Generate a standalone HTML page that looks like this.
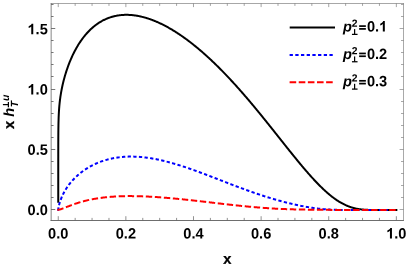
<!DOCTYPE html>
<html><head><meta charset="utf-8">
<style>
html,body{margin:0;padding:0;background:#fff;}
body{width:408px;height:268px;overflow:hidden;}
svg{display:block;will-change:transform;}
text{font-family:"Liberation Sans",sans-serif;font-weight:bold;font-size:14.6px;fill:#000;text-rendering:geometricPrecision;}
.it{font-style:italic;}
.sc{font-size:10.4px;}
</style></head><body>
<svg width="408" height="268" viewBox="0 0 408 268">
<rect width="408" height="268" fill="#fff"/>
<g fill="none" stroke-linejoin="round" stroke-linecap="square">
<path d="M58.25,201.70 L58.25,201.08 L58.25,200.76 L58.25,200.43 L58.25,200.09 L58.25,199.74 L58.25,199.38 L58.25,199.01 L58.25,198.62 L58.25,198.22 L58.25,197.81 L58.25,197.38 L58.25,196.94 L58.25,196.48 L58.25,196.01 L58.25,195.53 L58.25,195.03 L58.25,194.51 L58.25,193.98 L58.25,193.43 L58.25,192.86 L58.25,192.27 L58.25,191.67 L58.25,191.36 L58.25,191.04 L58.25,190.72 L58.25,190.40 L58.25,190.07 L58.25,189.74 L58.25,189.40 L58.25,189.06 L58.25,188.71 L58.25,188.35 L58.25,187.99 L58.25,187.63 L58.25,187.26 L58.25,186.88 L58.25,186.50 L58.25,186.11 L58.25,185.72 L58.25,185.33 L58.25,184.92 L58.25,184.51 L58.25,184.10 L58.25,183.68 L58.25,183.25 L58.25,182.82 L58.25,182.38 L58.25,181.93 L58.25,181.48 L58.25,181.02 L58.25,180.56 L58.25,180.09 L58.25,179.61 L58.25,179.13 L58.25,178.64 L58.25,178.15 L58.25,177.64 L58.25,177.13 L58.25,176.62 L58.25,176.10 L58.25,175.57 L58.25,175.03 L58.25,174.49 L58.25,173.94 L58.25,173.39 L58.25,172.82 L58.25,172.25 L58.25,171.68 L58.25,171.09 L58.25,170.50 L58.25,169.90 L58.25,169.30 L58.25,168.69 L58.25,168.07 L58.25,167.44 L58.25,166.81 L58.25,166.17 L58.25,165.52 L58.25,164.87 L58.25,164.21 L58.25,163.54 L58.25,162.87 L58.25,162.18 L58.25,161.50 L58.25,160.80 L58.25,160.10 L58.25,159.39 L58.25,158.67 L58.26,157.95 L58.26,157.21 L58.26,156.48 L58.26,155.73 L58.26,154.98 L58.26,154.22 L58.26,153.46 L58.26,152.69 L58.26,151.91 L58.26,151.13 L58.26,150.34 L58.26,149.54 L58.27,148.74 L58.27,147.93 L58.27,147.12 L58.27,146.30 L58.27,145.47 L58.28,144.64 L58.28,143.81 L58.28,142.96 L58.28,142.11 L58.29,141.26 L58.29,140.40 L58.29,139.54 L58.30,138.67 L58.30,137.80 L58.31,136.92 L58.31,136.03 L58.32,135.15 L58.33,134.25 L58.33,133.36 L58.34,132.45 L58.35,131.55 L58.36,130.64 L58.37,129.72 L58.38,128.80 L58.40,127.88 L58.41,126.95 L58.43,126.01 L58.44,125.07 L58.46,124.13 L58.48,123.18 L58.50,122.22 L58.53,121.26 L58.56,120.29 L58.59,119.31 L58.62,118.33 L58.65,117.34 L58.69,116.34 L58.74,115.34 L58.78,114.32 L58.84,113.29 L58.89,112.25 L58.95,111.19 L59.02,110.12 L59.10,109.04 L59.18,107.94 L59.27,106.82 L59.37,105.68 L59.48,104.52 L59.59,103.33 L59.72,102.11 L59.87,100.87 L60.02,99.59 L60.20,98.28 L60.38,96.94 L60.59,95.55 L60.82,94.12 L61.07,92.64 L61.34,91.11 L61.64,89.52 L62.15,86.99 L62.63,84.81 L63.11,82.75 L63.59,80.82 L64.07,78.98 L64.55,77.23 L65.03,75.55 L65.51,73.95 L65.99,72.40 L66.47,70.91 L66.95,69.47 L67.43,68.08 L67.91,66.73 L68.39,65.43 L68.87,64.16 L69.35,62.93 L69.83,61.73 L70.31,60.57 L70.79,59.43 L71.27,58.33 L71.75,57.25 L72.23,56.20 L72.70,55.18 L73.18,54.18 L73.66,53.20 L74.14,52.25 L74.62,51.32 L75.10,50.41 L75.58,49.52 L76.06,48.65 L76.54,47.79 L77.02,46.96 L77.50,46.15 L77.98,45.35 L78.46,44.57 L78.94,43.81 L79.42,43.06 L79.90,42.33 L80.38,41.61 L80.86,40.91 L81.34,40.22 L81.82,39.55 L82.30,38.89 L82.78,38.24 L83.26,37.61 L83.74,36.99 L84.22,36.39 L84.70,35.79 L85.18,35.21 L85.66,34.64 L86.14,34.08 L86.62,33.53 L87.10,33.00 L87.58,32.47 L88.06,31.96 L88.54,31.45 L89.02,30.96 L89.50,30.48 L89.97,30.00 L90.45,29.54 L90.93,29.09 L91.41,28.64 L91.89,28.21 L92.37,27.78 L92.85,27.37 L93.33,26.96 L93.81,26.56 L94.29,26.17 L94.77,25.79 L95.25,25.41 L95.73,25.05 L96.21,24.69 L96.69,24.34 L97.17,24.00 L97.65,23.67 L98.13,23.34 L98.61,23.02 L99.09,22.71 L99.57,22.41 L100.05,22.11 L100.53,21.82 L101.01,21.54 L101.49,21.27 L101.97,21.00 L102.45,20.74 L102.93,20.48 L103.41,20.23 L103.89,19.99 L104.37,19.76 L104.85,19.53 L105.33,19.31 L105.81,19.09 L106.29,18.88 L106.77,18.68 L107.24,18.48 L107.72,18.29 L108.20,18.10 L108.68,17.92 L109.16,17.75 L109.64,17.58 L110.12,17.41 L110.60,17.26 L111.08,17.10 L111.56,16.96 L112.04,16.81 L112.52,16.68 L113.00,16.55 L113.48,16.42 L113.96,16.30 L114.44,16.19 L114.92,16.08 L115.40,15.97 L115.88,15.87 L116.36,15.78 L116.84,15.69 L117.32,15.60 L117.80,15.52 L118.28,15.44 L118.76,15.37 L119.24,15.30 L119.72,15.24 L120.20,15.18 L120.68,15.13 L121.16,15.08 L121.64,15.04 L122.12,15.00 L122.60,14.96 L123.08,14.93 L123.56,14.90 L124.04,14.88 L124.51,14.86 L124.99,14.85 L125.47,14.84 L125.95,14.83 L126.43,14.83 L126.91,14.83 L127.39,14.84 L127.87,14.85 L128.35,14.86 L128.83,14.88 L129.31,14.90 L129.79,14.93 L130.27,14.96 L130.75,14.99 L131.23,15.03 L131.71,15.07 L132.19,15.11 L132.67,15.16 L133.15,15.22 L133.63,15.27 L134.11,15.33 L134.59,15.39 L135.07,15.46 L135.55,15.53 L136.03,15.60 L136.51,15.68 L136.99,15.76 L137.47,15.84 L137.95,15.93 L138.43,16.02 L138.91,16.11 L139.39,16.21 L139.87,16.31 L140.35,16.42 L140.83,16.52 L141.31,16.63 L141.78,16.75 L142.26,16.86 L142.74,16.98 L143.22,17.11 L143.70,17.23 L144.18,17.36 L144.66,17.50 L145.14,17.63 L145.62,17.77 L146.10,17.91 L146.58,18.06 L147.06,18.21 L147.54,18.36 L148.02,18.51 L148.50,18.67 L148.98,18.83 L149.46,18.99 L149.94,19.16 L150.42,19.32 L150.90,19.50 L151.38,19.67 L151.86,19.85 L152.34,20.03 L152.82,20.21 L153.30,20.40 L153.78,20.59 L154.26,20.78 L154.74,20.97 L155.22,21.17 L155.70,21.37 L156.18,21.57 L156.66,21.77 L157.14,21.98 L157.62,22.19 L158.10,22.41 L158.58,22.62 L159.05,22.84 L159.53,23.06 L160.01,23.29 L160.49,23.51 L160.97,23.74 L161.45,23.97 L161.93,24.21 L162.41,24.44 L162.89,24.68 L163.37,24.92 L163.85,25.17 L164.33,25.41 L164.81,25.66 L165.29,25.92 L165.77,26.17 L166.25,26.43 L166.73,26.69 L167.21,26.95 L167.69,27.21 L168.17,27.48 L168.65,27.75 L169.13,28.02 L169.61,28.29 L170.09,28.57 L170.57,28.85 L171.05,29.13 L171.53,29.41 L172.01,29.70 L172.49,29.98 L172.97,30.27 L173.45,30.57 L173.93,30.86 L174.41,31.16 L174.89,31.46 L175.37,31.76 L175.85,32.06 L176.32,32.37 L176.80,32.68 L177.28,32.99 L177.76,33.30 L178.24,33.62 L178.72,33.93 L179.20,34.25 L179.68,34.57 L180.16,34.90 L180.64,35.22 L181.12,35.55 L181.60,35.88 L182.08,36.22 L182.56,36.55 L183.04,36.89 L183.52,37.23 L184.00,37.57 L184.48,37.91 L184.96,38.26 L185.44,38.60 L185.92,38.95 L186.40,39.30 L186.88,39.66 L187.36,40.01 L187.84,40.37 L188.32,40.73 L188.80,41.09 L189.28,41.46 L189.76,41.82 L190.24,42.19 L190.72,42.56 L191.20,42.94 L191.68,43.31 L192.16,43.69 L192.64,44.06 L193.12,44.44 L193.59,44.83 L194.07,45.21 L194.55,45.60 L195.03,45.98 L195.51,46.37 L195.99,46.77 L196.47,47.16 L196.95,47.56 L197.43,47.95 L197.91,48.35 L198.39,48.76 L198.87,49.16 L199.35,49.56 L199.83,49.97 L200.31,50.38 L200.79,50.79 L201.27,51.20 L201.75,51.62 L202.23,52.04 L202.71,52.45 L203.19,52.88 L203.67,53.30 L204.15,53.72 L204.63,54.15 L205.11,54.58 L205.59,55.00 L206.07,55.44 L206.55,55.87 L207.03,56.30 L207.51,56.74 L207.99,57.18 L208.47,57.62 L208.95,58.06 L209.43,58.51 L209.91,58.95 L210.38,59.40 L210.86,59.85 L211.34,60.30 L211.82,60.75 L212.30,61.21 L212.78,61.66 L213.26,62.12 L213.74,62.58 L214.22,63.04 L214.70,63.50 L215.18,63.97 L215.66,64.43 L216.14,64.90 L216.62,65.37 L217.10,65.84 L217.58,66.32 L218.06,66.79 L218.54,67.27 L219.02,67.75 L219.50,68.22 L219.98,68.71 L220.46,69.19 L220.94,69.67 L221.42,70.16 L221.90,70.65 L222.38,71.14 L222.86,71.63 L223.34,72.12 L223.82,72.61 L224.30,73.11 L224.78,73.61 L225.26,74.10 L225.74,74.60 L226.22,75.11 L226.70,75.61 L227.18,76.11 L227.65,76.62 L228.13,77.13 L228.61,77.64 L229.09,78.15 L229.57,78.66 L230.05,79.17 L230.53,79.69 L231.01,80.21 L231.49,80.72 L231.97,81.24 L232.45,81.76 L232.93,82.29 L233.41,82.81 L233.89,83.34 L234.37,83.86 L234.85,84.39 L235.33,84.92 L235.81,85.45 L236.29,85.98 L236.77,86.52 L237.25,87.05 L237.73,87.59 L238.21,88.13 L238.69,88.66 L239.17,89.20 L239.65,89.75 L240.13,90.29 L240.61,90.83 L241.09,91.38 L241.57,91.93 L242.05,92.47 L242.53,93.02 L243.01,93.57 L243.49,94.12 L243.97,94.68 L244.45,95.23 L244.92,95.79 L245.40,96.34 L245.88,96.90 L246.36,97.46 L246.84,98.02 L247.32,98.58 L247.80,99.14 L248.28,99.71 L248.76,100.27 L249.24,100.84 L249.72,101.40 L250.20,101.97 L250.68,102.54 L251.16,103.11 L251.64,103.68 L252.12,104.25 L252.60,104.83 L253.08,105.40 L253.56,105.98 L254.04,106.55 L254.52,107.13 L255.00,107.71 L255.48,108.29 L255.96,108.87 L256.44,109.45 L256.92,110.03 L257.40,110.61 L257.88,111.20 L258.36,111.78 L258.84,112.37 L259.32,112.95 L259.80,113.54 L260.28,114.13 L260.76,114.72 L261.24,115.30 L261.72,115.89 L262.19,116.49 L262.67,117.08 L263.15,117.67 L263.63,118.26 L264.11,118.86 L264.59,119.45 L265.07,120.05 L265.55,120.64 L266.03,121.24 L266.51,121.83 L266.99,122.43 L267.47,123.03 L267.95,123.63 L268.43,124.23 L268.91,124.83 L269.39,125.43 L269.87,126.03 L270.35,126.63 L270.83,127.23 L271.31,127.83 L271.79,128.43 L272.27,129.04 L272.75,129.64 L273.23,130.24 L273.71,130.84 L274.19,131.45 L274.67,132.05 L275.15,132.66 L275.63,133.26 L276.11,133.87 L276.59,134.47 L277.07,135.07 L277.55,135.68 L278.03,136.29 L278.51,136.89 L278.99,137.50 L279.46,138.10 L279.94,138.71 L280.42,139.31 L280.90,139.92 L281.38,140.52 L281.86,141.13 L282.34,141.73 L282.82,142.34 L283.30,142.94 L283.78,143.54 L284.26,144.15 L284.74,144.75 L285.22,145.36 L285.70,145.96 L286.18,146.56 L286.66,147.16 L287.14,147.77 L287.62,148.37 L288.10,148.97 L288.58,149.57 L289.06,150.17 L289.54,150.77 L290.02,151.37 L290.50,151.96 L290.98,152.56 L291.46,153.16 L291.94,153.75 L292.42,154.35 L292.90,154.94 L293.38,155.54 L293.86,156.13 L294.34,156.72 L294.82,157.31 L295.30,157.90 L295.78,158.49 L296.26,159.08 L296.73,159.66 L297.21,160.25 L297.69,160.83 L298.17,161.42 L298.65,162.00 L299.13,162.58 L299.61,163.16 L300.09,163.74 L300.57,164.31 L301.05,164.89 L301.53,165.46 L302.01,166.03 L302.49,166.60 L302.97,167.17 L303.45,167.74 L303.93,168.30 L304.41,168.87 L304.89,169.43 L305.37,169.99 L305.85,170.55 L306.33,171.10 L306.81,171.66 L307.29,172.21 L307.77,172.76 L308.25,173.31 L308.73,173.86 L309.21,174.40 L309.69,174.94 L310.17,175.48 L310.65,176.02 L311.13,176.55 L311.61,177.08 L312.09,177.61 L312.57,178.14 L313.05,178.67 L313.53,179.19 L314.00,179.71 L314.48,180.22 L314.96,180.74 L315.44,181.25 L315.92,181.75 L316.40,182.26 L316.88,182.76 L317.36,183.26 L317.84,183.75 L318.32,184.25 L318.80,184.73 L319.28,185.22 L319.76,185.70 L320.24,186.18 L320.72,186.66 L321.20,187.13 L321.68,187.59 L322.16,188.06 L322.64,188.52 L323.12,188.98 L323.60,189.43 L324.08,189.88 L324.56,190.32 L325.04,190.76 L325.52,191.20 L326.00,191.63 L326.48,192.06 L326.96,192.48 L327.44,192.90 L327.92,193.32 L328.40,193.73 L328.88,194.13 L329.36,194.54 L329.84,194.93 L330.32,195.32 L330.80,195.71 L331.27,196.10 L331.75,196.47 L332.23,196.85 L332.71,197.21 L333.19,197.58 L333.67,197.94 L334.15,198.29 L334.63,198.64 L335.11,198.98 L335.59,199.32 L336.07,199.65 L336.55,199.98 L337.03,200.30 L337.51,200.62 L337.99,200.93 L338.47,201.23 L338.95,201.53 L339.43,201.83 L339.91,202.12 L340.39,202.40 L340.87,202.68 L341.35,202.95 L341.83,203.22 L342.31,203.48 L342.79,203.73 L343.27,203.98 L343.75,204.23 L344.23,204.47 L344.71,204.70 L345.19,204.93 L345.67,205.15 L346.15,205.36 L346.63,205.57 L347.11,205.78 L347.59,205.98 L348.07,206.17 L348.54,206.36 L349.02,206.54 L349.50,206.71 L349.98,206.88 L350.46,207.05 L350.94,207.21 L351.42,207.36 L351.90,207.51 L352.38,207.65 L352.86,207.79 L353.34,207.92 L353.82,208.05 L354.30,208.17 L354.78,208.29 L355.26,208.40 L355.74,208.51 L356.22,208.61 L356.70,208.71 L357.18,208.80 L357.66,208.89 L358.14,208.97 L358.62,209.05 L359.10,209.12 L359.58,209.19 L360.06,209.26 L360.54,209.32 L361.02,209.38 L361.50,209.44 L361.98,209.49 L362.46,209.53 L362.94,209.58 L363.42,209.62 L363.90,209.66 L364.38,209.69 L364.86,209.73 L365.34,209.76 L365.81,209.78 L366.29,209.81 L366.77,209.83 L367.25,209.85 L367.73,209.87 L368.21,209.89 L368.69,209.90 L369.17,209.92 L369.65,209.93 L370.13,209.94 L370.61,209.95 L371.09,209.96 L371.57,209.96 L372.05,209.97 L372.53,209.98 L373.01,209.98 L373.49,209.98 L373.97,209.99 L374.45,209.99 L374.93,209.99 L375.41,209.99 L375.89,210.00 L376.37,210.00 L376.85,210.00 L377.33,210.00 L377.81,210.00 L378.29,210.00 L378.77,210.00 L379.25,210.00 L379.73,210.00 L380.21,210.00 L380.69,210.00 L381.17,210.00 L381.65,210.00 L382.13,210.00 L382.60,210.00 L383.08,210.00 L383.56,210.00 L384.04,210.00 L384.52,210.00 L385.00,210.00 L385.48,210.00 L385.96,210.00 L386.44,210.00 L386.92,210.00 L387.40,210.00 L387.88,210.00 L388.36,210.00 L388.84,210.00 L389.32,210.00 L389.80,210.00 L390.28,210.00 L390.76,210.00 L391.24,210.00 L391.72,210.00 L392.20,210.00 L392.68,210.00 L393.16,210.00 L393.64,210.00 L394.12,210.00 L394.60,210.00 L395.08,210.00 L395.56,210.00 L396.04,210.00 L396.35,210.00" stroke="#000" stroke-width="2"/>
<path d="M58.25,209.75 L58.27,209.44 L58.30,209.12 L58.34,208.79 L58.38,208.48 L58.44,208.09 L58.50,207.71 L58.59,207.25 L58.65,206.89 L58.74,206.49 L58.84,206.02 L58.95,205.50 L59.10,204.91 L59.18,204.58 L59.27,204.24 L59.37,203.87 L59.48,203.48 L59.59,203.07 L59.72,202.63 L59.87,202.17 L60.02,201.68 L60.20,201.16 L60.38,200.61 L60.59,200.03 L60.82,199.41 L61.07,198.77 L61.34,198.08 L61.64,197.36 L62.15,196.18 L62.63,195.14 L63.11,194.16 L63.59,193.21 L64.07,192.31 L64.55,191.44 L65.03,190.61 L65.51,189.81 L65.99,189.03 L66.47,188.28 L66.95,187.55 L67.43,186.85 L67.91,186.16 L68.39,185.50 L68.87,184.85 L69.35,184.22 L69.83,183.61 L70.31,183.01 L70.79,182.42 L71.27,181.85 L71.75,181.30 L72.23,180.75 L72.70,180.22 L73.18,179.70 L73.66,179.19 L74.14,178.69 L74.62,178.21 L75.10,177.73 L75.58,177.26 L76.06,176.80 L76.54,176.35 L77.02,175.91 L77.50,175.48 L77.98,175.06 L78.46,174.64 L78.94,174.23 L79.42,173.83 L79.90,173.44 L80.38,173.05 L80.86,172.67 L81.34,172.30 L81.82,171.94 L82.30,171.58 L82.78,171.23 L83.26,170.88 L83.74,170.54 L84.22,170.21 L84.70,169.88 L85.18,169.56 L85.66,169.24 L86.14,168.93 L86.62,168.62 L87.10,168.32 L87.58,168.03 L88.06,167.74 L88.54,167.45 L89.02,167.17 L89.50,166.90 L89.97,166.63 L90.45,166.36 L90.93,166.10 L91.41,165.85 L91.89,165.60 L92.37,165.35 L92.85,165.11 L93.33,164.87 L93.81,164.63 L94.29,164.40 L94.77,164.18 L95.25,163.96 L95.73,163.74 L96.21,163.53 L96.69,163.32 L97.17,163.11 L97.65,162.91 L98.13,162.71 L98.61,162.52 L99.09,162.33 L99.57,162.14 L100.05,161.96 L100.53,161.78 L101.01,161.60 L101.49,161.43 L101.97,161.26 L102.45,161.10 L102.93,160.94 L103.41,160.78 L103.89,160.63 L104.37,160.47 L104.85,160.33 L105.33,160.18 L105.81,160.04 L106.29,159.90 L106.77,159.77 L107.24,159.63 L107.72,159.51 L108.20,159.38 L108.68,159.26 L109.16,159.14 L109.64,159.02 L110.12,158.91 L110.60,158.80 L111.08,158.69 L111.56,158.59 L112.04,158.49 L112.52,158.39 L113.00,158.29 L113.48,158.20 L113.96,158.11 L114.44,158.02 L114.92,157.94 L115.40,157.85 L115.88,157.78 L116.36,157.70 L116.84,157.63 L117.32,157.56 L117.80,157.49 L118.28,157.42 L118.76,157.36 L119.24,157.30 L119.72,157.24 L120.20,157.19 L120.68,157.13 L121.16,157.08 L121.64,157.04 L122.12,156.99 L122.60,156.95 L123.08,156.91 L123.56,156.87 L124.04,156.84 L124.51,156.80 L124.99,156.77 L125.47,156.74 L125.95,156.72 L126.43,156.70 L126.91,156.67 L127.39,156.66 L127.87,156.64 L128.35,156.63 L128.83,156.61 L129.31,156.60 L129.79,156.60 L130.27,156.59 L130.75,156.59 L131.23,156.59 L131.71,156.59 L132.19,156.59 L132.67,156.60 L133.15,156.61 L133.63,156.62 L134.11,156.63 L134.59,156.64 L135.07,156.66 L135.55,156.68 L136.03,156.70 L136.51,156.72 L136.99,156.75 L137.47,156.77 L137.95,156.80 L138.43,156.83 L138.91,156.86 L139.39,156.90 L139.87,156.93 L140.35,156.97 L140.83,157.01 L141.31,157.05 L141.78,157.10 L142.26,157.14 L142.74,157.19 L143.22,157.24 L143.70,157.29 L144.18,157.34 L144.66,157.40 L145.14,157.46 L145.62,157.51 L146.10,157.57 L146.58,157.64 L147.06,157.70 L147.54,157.76 L148.02,157.83 L148.50,157.90 L148.98,157.97 L149.46,158.04 L149.94,158.12 L150.42,158.19 L150.90,158.27 L151.38,158.35 L151.86,158.43 L152.34,158.51 L152.82,158.59 L153.30,158.67 L153.78,158.76 L154.26,158.85 L154.74,158.94 L155.22,159.03 L155.70,159.12 L156.18,159.21 L156.66,159.31 L157.14,159.41 L157.62,159.50 L158.10,159.60 L158.58,159.71 L159.05,159.81 L159.53,159.91 L160.01,160.02 L160.49,160.12 L160.97,160.23 L161.45,160.34 L161.93,160.45 L162.41,160.56 L162.89,160.67 L163.37,160.79 L163.85,160.90 L164.33,161.02 L164.81,161.14 L165.29,161.26 L165.77,161.38 L166.25,161.50 L166.73,161.62 L167.21,161.75 L167.69,161.87 L168.17,162.00 L168.65,162.13 L169.13,162.26 L169.61,162.39 L170.09,162.52 L170.57,162.65 L171.05,162.78 L171.53,162.92 L172.01,163.05 L172.49,163.19 L172.97,163.33 L173.45,163.47 L173.93,163.61 L174.41,163.75 L174.89,163.89 L175.37,164.03 L175.85,164.17 L176.32,164.32 L176.80,164.46 L177.28,164.61 L177.76,164.76 L178.24,164.91 L178.72,165.05 L179.20,165.20 L179.68,165.36 L180.16,165.51 L180.64,165.66 L181.12,165.81 L181.60,165.97 L182.08,166.12 L182.56,166.28 L183.04,166.43 L183.52,166.59 L184.00,166.75 L184.48,166.91 L184.96,167.07 L185.44,167.23 L185.92,167.39 L186.40,167.55 L186.88,167.72 L187.36,167.88 L187.84,168.04 L188.32,168.21 L188.80,168.37 L189.28,168.54 L189.76,168.71 L190.24,168.87 L190.72,169.04 L191.20,169.21 L191.68,169.38 L192.16,169.55 L192.64,169.72 L193.12,169.89 L193.59,170.06 L194.07,170.23 L194.55,170.40 L195.03,170.58 L195.51,170.75 L195.99,170.92 L196.47,171.10 L196.95,171.27 L197.43,171.45 L197.91,171.62 L198.39,171.80 L198.87,171.98 L199.35,172.15 L199.83,172.33 L200.31,172.51 L200.79,172.69 L201.27,172.87 L201.75,173.05 L202.23,173.22 L202.71,173.40 L203.19,173.58 L203.67,173.77 L204.15,173.95 L204.63,174.13 L205.11,174.31 L205.59,174.49 L206.07,174.67 L206.55,174.85 L207.03,175.04 L207.51,175.22 L207.99,175.40 L208.47,175.58 L208.95,175.77 L209.43,175.95 L209.91,176.14 L210.38,176.32 L210.86,176.50 L211.34,176.69 L211.82,176.87 L212.30,177.06 L212.78,177.24 L213.26,177.43 L213.74,177.61 L214.22,177.80 L214.70,177.98 L215.18,178.17 L215.66,178.35 L216.14,178.54 L216.62,178.72 L217.10,178.91 L217.58,179.09 L218.06,179.28 L218.54,179.47 L219.02,179.65 L219.50,179.84 L219.98,180.02 L220.46,180.21 L220.94,180.40 L221.42,180.58 L221.90,180.77 L222.38,180.95 L222.86,181.14 L223.34,181.32 L223.82,181.51 L224.30,181.69 L224.78,181.88 L225.26,182.06 L225.74,182.25 L226.22,182.43 L226.70,182.62 L227.18,182.80 L227.65,182.99 L228.13,183.17 L228.61,183.36 L229.09,183.54 L229.57,183.73 L230.05,183.91 L230.53,184.09 L231.01,184.28 L231.49,184.46 L231.97,184.64 L232.45,184.83 L232.93,185.01 L233.41,185.19 L233.89,185.37 L234.37,185.56 L234.85,185.74 L235.33,185.92 L235.81,186.10 L236.29,186.28 L236.77,186.46 L237.25,186.64 L237.73,186.82 L238.21,187.00 L238.69,187.18 L239.17,187.36 L239.65,187.54 L240.13,187.72 L240.61,187.90 L241.09,188.08 L241.57,188.25 L242.05,188.43 L242.53,188.61 L243.01,188.78 L243.49,188.96 L243.97,189.13 L244.45,189.31 L244.92,189.49 L245.40,189.66 L245.88,189.83 L246.36,190.01 L246.84,190.18 L247.32,190.35 L247.80,190.53 L248.28,190.70 L248.76,190.87 L249.24,191.04 L249.72,191.21 L250.20,191.38 L250.68,191.55 L251.16,191.72 L251.64,191.89 L252.12,192.06 L252.60,192.23 L253.08,192.39 L253.56,192.56 L254.04,192.73 L254.52,192.89 L255.00,193.06 L255.48,193.22 L255.96,193.39 L256.44,193.55 L256.92,193.71 L257.40,193.88 L257.88,194.04 L258.36,194.20 L258.84,194.36 L259.32,194.52 L259.80,194.68 L260.28,194.84 L260.76,195.00 L261.24,195.16 L261.72,195.31 L262.19,195.47 L262.67,195.63 L263.15,195.78 L263.63,195.94 L264.11,196.09 L264.59,196.25 L265.07,196.40 L265.55,196.55 L266.03,196.71 L266.51,196.86 L266.99,197.01 L267.47,197.16 L267.95,197.31 L268.43,197.46 L268.91,197.61 L269.39,197.75 L269.87,197.90 L270.35,198.05 L270.83,198.19 L271.31,198.34 L271.79,198.48 L272.27,198.62 L272.75,198.77 L273.23,198.91 L273.71,199.05 L274.19,199.19 L274.67,199.33 L275.15,199.47 L275.63,199.61 L276.11,199.75 L276.59,199.89 L277.07,200.02 L277.55,200.16 L278.03,200.29 L278.51,200.43 L278.99,200.56 L279.46,200.69 L279.94,200.83 L280.42,200.96 L280.90,201.09 L281.38,201.22 L281.86,201.35 L282.34,201.48 L282.82,201.60 L283.30,201.73 L283.78,201.86 L284.26,201.98 L284.74,202.11 L285.22,202.23 L285.70,202.35 L286.18,202.48 L286.66,202.60 L287.14,202.72 L287.62,202.84 L288.10,202.96 L288.58,203.08 L289.06,203.19 L289.54,203.31 L290.02,203.42 L290.50,203.54 L290.98,203.65 L291.46,203.77 L291.94,203.88 L292.42,203.99 L292.90,204.10 L293.38,204.21 L293.86,204.32 L294.34,204.43 L294.82,204.54 L295.30,204.64 L295.78,204.75 L296.26,204.85 L296.73,204.96 L297.21,205.06 L297.69,205.16 L298.17,205.26 L298.65,205.36 L299.13,205.46 L299.61,205.56 L300.09,205.66 L300.57,205.75 L301.05,205.85 L301.53,205.94 L302.01,206.04 L302.49,206.13 L302.97,206.22 L303.45,206.31 L303.93,206.40 L304.41,206.49 L304.89,206.58 L305.37,206.67 L305.85,206.75 L306.33,206.84 L306.81,206.92 L307.29,207.01 L307.77,207.09 L308.25,207.17 L308.73,207.25 L309.21,207.33 L309.69,207.41 L310.17,207.49 L310.65,207.56 L311.13,207.64 L311.61,207.71 L312.09,207.79 L312.57,207.86 L313.05,207.93 L313.53,208.00 L314.00,208.07 L314.48,208.13 L314.96,208.20 L315.44,208.27 L315.92,208.33 L316.40,208.39 L316.88,208.45 L317.36,208.51 L317.84,208.57 L318.32,208.63 L318.80,208.69 L319.28,208.74 L319.76,208.80 L320.24,208.85 L320.72,208.90 L321.20,208.95 L321.68,209.00 L322.16,209.05 L322.64,209.09 L323.12,209.14 L323.60,209.18 L324.08,209.22 L324.56,209.26 L325.04,209.30 L325.52,209.34 L326.00,209.37 L326.48,209.41 L326.96,209.44 L327.44,209.48 L327.92,209.51 L328.40,209.54 L328.88,209.57 L329.36,209.59 L329.84,209.62 L330.32,209.64 L330.80,209.67 L331.27,209.69 L331.75,209.71 L332.23,209.73 L332.71,209.75 L333.19,209.77 L333.67,209.78 L334.15,209.80 L334.63,209.81 L335.11,209.83 L335.59,209.84 L336.07,209.85 L336.55,209.86 L337.03,209.87 L337.51,209.88 L337.99,209.89 L338.47,209.90 L338.95,209.90 L339.43,209.91 L339.91,209.92 L340.39,209.92 L340.87,209.93 L341.35,209.93 L341.83,209.94 L342.31,209.94 L342.79,209.95 L343.27,209.95 L343.75,209.95 L344.23,209.95 L344.71,209.96 L345.19,209.96 L345.67,209.96 L346.15,209.97 L346.63,209.97 L347.11,209.97 L347.59,209.97 L348.07,209.97 L348.54,209.98 L349.02,209.98 L349.50,209.98 L349.98,209.98 L350.46,209.98 L350.94,209.98 L351.42,209.99 L351.90,209.99 L352.38,209.99 L352.86,209.99 L353.34,209.99 L353.82,209.99 L354.30,209.99 L354.78,209.99 L355.26,210.00 L355.74,210.00 L356.22,210.00 L356.70,210.00 L357.18,210.00 L357.66,210.00 L358.14,210.00 L358.62,210.00 L359.10,210.00 L359.58,210.00 L360.06,210.00 L360.54,210.00 L361.02,210.00 L361.50,210.00 L361.98,210.00 L362.46,210.00 L362.94,210.00 L363.42,210.00 L363.90,210.00 L364.38,210.00 L364.86,210.00 L365.34,210.00 L365.81,210.00 L366.29,210.00 L366.77,210.00 L367.25,210.00 L367.73,210.00 L368.21,210.00 L368.69,210.00 L369.17,210.00 L369.65,210.00 L370.13,210.00 L370.61,210.00 L371.09,210.00 L371.57,210.00 L372.05,210.00 L372.53,210.00 L373.01,210.00 L373.49,210.00 L373.97,210.00 L374.45,210.00 L374.93,210.00 L375.41,210.00 L375.89,210.00 L376.37,210.00 L376.85,210.00 L377.33,210.00 L377.81,210.00 L378.29,210.00 L378.77,210.00 L379.25,210.00 L379.73,210.00 L380.21,210.00 L380.69,210.00 L381.17,210.00 L381.65,210.00 L382.13,210.00 L382.60,210.00 L383.08,210.00 L383.56,210.00 L384.04,210.00 L384.52,210.00 L385.00,210.00 L385.48,210.00 L385.96,210.00 L386.44,210.00 L386.92,210.00 L387.40,210.00 L387.88,210.00 L388.36,210.00 L388.84,210.00 L389.32,210.00 L389.80,210.00 L390.28,210.00 L390.76,210.00 L391.24,210.00 L391.72,210.00 L392.20,210.00 L392.68,210.00 L393.16,210.00 L393.64,210.00 L394.12,210.00 L394.60,210.00 L395.08,210.00 L395.56,210.00 L396.04,210.00 L396.35,210.00" stroke="#0000ff" stroke-width="2" stroke-dasharray="1.3 4.335"/>
<path d="M58.25,209.75 L58.56,209.73 L58.89,209.69 L59.27,209.61 L59.59,209.54 L60.02,209.43 L60.38,209.33 L60.82,209.20 L61.34,209.03 L61.64,208.92 L62.15,208.74 L62.63,208.57 L63.11,208.39 L63.59,208.21 L64.07,208.02 L64.55,207.83 L65.03,207.64 L65.51,207.45 L65.99,207.26 L66.47,207.07 L66.95,206.88 L67.43,206.69 L67.91,206.50 L68.39,206.31 L68.87,206.12 L69.35,205.94 L69.83,205.75 L70.31,205.57 L70.79,205.38 L71.27,205.20 L71.75,205.02 L72.23,204.85 L72.70,204.67 L73.18,204.50 L73.66,204.33 L74.14,204.16 L74.62,203.99 L75.10,203.82 L75.58,203.66 L76.06,203.50 L76.54,203.34 L77.02,203.18 L77.50,203.03 L77.98,202.87 L78.46,202.72 L78.94,202.57 L79.42,202.43 L79.90,202.28 L80.38,202.14 L80.86,202.00 L81.34,201.86 L81.82,201.73 L82.30,201.59 L82.78,201.46 L83.26,201.33 L83.74,201.21 L84.22,201.08 L84.70,200.96 L85.18,200.84 L85.66,200.72 L86.14,200.60 L86.62,200.48 L87.10,200.37 L87.58,200.26 L88.06,200.15 L88.54,200.04 L89.02,199.93 L89.50,199.83 L89.97,199.73 L90.45,199.63 L90.93,199.53 L91.41,199.43 L91.89,199.34 L92.37,199.25 L92.85,199.15 L93.33,199.06 L93.81,198.98 L94.29,198.89 L94.77,198.80 L95.25,198.72 L95.73,198.64 L96.21,198.56 L96.69,198.48 L97.17,198.41 L97.65,198.33 L98.13,198.26 L98.61,198.19 L99.09,198.12 L99.57,198.05 L100.05,197.98 L100.53,197.91 L101.01,197.85 L101.49,197.79 L101.97,197.72 L102.45,197.66 L102.93,197.60 L103.41,197.55 L103.89,197.49 L104.37,197.44 L104.85,197.38 L105.33,197.33 L105.81,197.28 L106.29,197.23 L106.77,197.18 L107.24,197.13 L107.72,197.09 L108.20,197.04 L108.68,197.00 L109.16,196.96 L109.64,196.92 L110.12,196.88 L110.60,196.84 L111.08,196.80 L111.56,196.76 L112.04,196.73 L112.52,196.70 L113.00,196.66 L113.48,196.63 L113.96,196.60 L114.44,196.57 L114.92,196.54 L115.40,196.51 L115.88,196.49 L116.36,196.46 L116.84,196.44 L117.32,196.41 L117.80,196.39 L118.28,196.37 L118.76,196.35 L119.24,196.33 L119.72,196.31 L120.20,196.29 L120.68,196.28 L121.16,196.26 L121.64,196.24 L122.12,196.23 L122.60,196.22 L123.08,196.20 L123.56,196.19 L124.04,196.18 L124.51,196.17 L124.99,196.16 L125.47,196.16 L125.95,196.15 L126.43,196.14 L126.91,196.14 L127.39,196.13 L127.87,196.13 L128.35,196.12 L128.83,196.12 L129.31,196.12 L129.79,196.12 L130.27,196.12 L130.75,196.12 L131.23,196.12 L131.71,196.12 L132.19,196.13 L132.67,196.13 L133.15,196.13 L133.63,196.14 L134.11,196.14 L134.59,196.15 L135.07,196.16 L135.55,196.17 L136.03,196.17 L136.51,196.18 L136.99,196.19 L137.47,196.20 L137.95,196.21 L138.43,196.23 L138.91,196.24 L139.39,196.25 L139.87,196.26 L140.35,196.28 L140.83,196.29 L141.31,196.31 L141.78,196.32 L142.26,196.34 L142.74,196.36 L143.22,196.38 L143.70,196.39 L144.18,196.41 L144.66,196.43 L145.14,196.45 L145.62,196.47 L146.10,196.49 L146.58,196.52 L147.06,196.54 L147.54,196.56 L148.02,196.58 L148.50,196.61 L148.98,196.63 L149.46,196.66 L149.94,196.68 L150.42,196.71 L150.90,196.73 L151.38,196.76 L151.86,196.79 L152.34,196.81 L152.82,196.84 L153.30,196.87 L153.78,196.90 L154.26,196.93 L154.74,196.96 L155.22,196.99 L155.70,197.02 L156.18,197.05 L156.66,197.08 L157.14,197.12 L157.62,197.15 L158.10,197.18 L158.58,197.22 L159.05,197.25 L159.53,197.28 L160.01,197.32 L160.49,197.35 L160.97,197.39 L161.45,197.42 L161.93,197.46 L162.41,197.50 L162.89,197.53 L163.37,197.57 L163.85,197.61 L164.33,197.65 L164.81,197.69 L165.29,197.72 L165.77,197.76 L166.25,197.80 L166.73,197.84 L167.21,197.88 L167.69,197.92 L168.17,197.96 L168.65,198.01 L169.13,198.05 L169.61,198.09 L170.09,198.13 L170.57,198.17 L171.05,198.22 L171.53,198.26 L172.01,198.30 L172.49,198.35 L172.97,198.39 L173.45,198.44 L173.93,198.48 L174.41,198.52 L174.89,198.57 L175.37,198.62 L175.85,198.66 L176.32,198.71 L176.80,198.75 L177.28,198.80 L177.76,198.85 L178.24,198.89 L178.72,198.94 L179.20,198.99 L179.68,199.04 L180.16,199.08 L180.64,199.13 L181.12,199.18 L181.60,199.23 L182.08,199.28 L182.56,199.33 L183.04,199.38 L183.52,199.43 L184.00,199.48 L184.48,199.53 L184.96,199.58 L185.44,199.63 L185.92,199.68 L186.40,199.73 L186.88,199.78 L187.36,199.83 L187.84,199.88 L188.32,199.93 L188.80,199.99 L189.28,200.04 L189.76,200.09 L190.24,200.14 L190.72,200.19 L191.20,200.25 L191.68,200.30 L192.16,200.35 L192.64,200.41 L193.12,200.46 L193.59,200.51 L194.07,200.57 L194.55,200.62 L195.03,200.67 L195.51,200.73 L195.99,200.78 L196.47,200.83 L196.95,200.89 L197.43,200.94 L197.91,201.00 L198.39,201.05 L198.87,201.11 L199.35,201.16 L199.83,201.22 L200.31,201.27 L200.79,201.33 L201.27,201.38 L201.75,201.44 L202.23,201.49 L202.71,201.55 L203.19,201.60 L203.67,201.66 L204.15,201.71 L204.63,201.77 L205.11,201.82 L205.59,201.88 L206.07,201.94 L206.55,201.99 L207.03,202.05 L207.51,202.10 L207.99,202.16 L208.47,202.21 L208.95,202.27 L209.43,202.33 L209.91,202.38 L210.38,202.44 L210.86,202.49 L211.34,202.55 L211.82,202.61 L212.30,202.66 L212.78,202.72 L213.26,202.77 L213.74,202.83 L214.22,202.89 L214.70,202.94 L215.18,203.00 L215.66,203.05 L216.14,203.11 L216.62,203.17 L217.10,203.22 L217.58,203.28 L218.06,203.33 L218.54,203.39 L219.02,203.44 L219.50,203.50 L219.98,203.55 L220.46,203.61 L220.94,203.67 L221.42,203.72 L221.90,203.78 L222.38,203.83 L222.86,203.89 L223.34,203.94 L223.82,204.00 L224.30,204.05 L224.78,204.11 L225.26,204.16 L225.74,204.21 L226.22,204.27 L226.70,204.32 L227.18,204.38 L227.65,204.43 L228.13,204.48 L228.61,204.54 L229.09,204.59 L229.57,204.65 L230.05,204.70 L230.53,204.75 L231.01,204.81 L231.49,204.86 L231.97,204.91 L232.45,204.96 L232.93,205.02 L233.41,205.07 L233.89,205.12 L234.37,205.17 L234.85,205.22 L235.33,205.28 L235.81,205.33 L236.29,205.38 L236.77,205.43 L237.25,205.48 L237.73,205.53 L238.21,205.58 L238.69,205.63 L239.17,205.68 L239.65,205.73 L240.13,205.78 L240.61,205.83 L241.09,205.88 L241.57,205.93 L242.05,205.98 L242.53,206.03 L243.01,206.07 L243.49,206.12 L243.97,206.17 L244.45,206.22 L244.92,206.26 L245.40,206.31 L245.88,206.36 L246.36,206.40 L246.84,206.45 L247.32,206.50 L247.80,206.54 L248.28,206.59 L248.76,206.63 L249.24,206.68 L249.72,206.72 L250.20,206.77 L250.68,206.81 L251.16,206.86 L251.64,206.90 L252.12,206.94 L252.60,206.98 L253.08,207.03 L253.56,207.07 L254.04,207.11 L254.52,207.15 L255.00,207.19 L255.48,207.24 L255.96,207.28 L256.44,207.32 L256.92,207.36 L257.40,207.40 L257.88,207.44 L258.36,207.48 L258.84,207.51 L259.32,207.55 L259.80,207.59 L260.28,207.63 L260.76,207.67 L261.24,207.70 L261.72,207.74 L262.19,207.78 L262.67,207.81 L263.15,207.85 L263.63,207.88 L264.11,207.92 L264.59,207.95 L265.07,207.99 L265.55,208.02 L266.03,208.06 L266.51,208.09 L266.99,208.12 L267.47,208.15 L267.95,208.19 L268.43,208.22 L268.91,208.25 L269.39,208.28 L269.87,208.31 L270.35,208.34 L270.83,208.37 L271.31,208.40 L271.79,208.43 L272.27,208.46 L272.75,208.49 L273.23,208.52 L273.71,208.54 L274.19,208.57 L274.67,208.60 L275.15,208.63 L275.63,208.65 L276.11,208.68 L276.59,208.70 L277.07,208.73 L277.55,208.75 L278.03,208.78 L278.51,208.80 L278.99,208.83 L279.46,208.85 L279.94,208.87 L280.42,208.89 L280.90,208.92 L281.38,208.94 L281.86,208.96 L282.34,208.98 L282.82,209.00 L283.30,209.02 L283.78,209.04 L284.26,209.06 L284.74,209.08 L285.22,209.10 L285.70,209.12 L286.18,209.14 L286.66,209.16 L287.14,209.17 L287.62,209.19 L288.10,209.21 L288.58,209.22 L289.06,209.24 L289.54,209.26 L290.02,209.27 L290.50,209.29 L290.98,209.30 L291.46,209.32 L291.94,209.33 L292.42,209.34 L292.90,209.36 L293.38,209.37 L293.86,209.38 L294.34,209.40 L294.82,209.41 L295.30,209.42 L295.78,209.43 L296.26,209.44 L296.73,209.46 L297.21,209.47 L297.69,209.48 L298.17,209.49 L298.65,209.50 L299.13,209.51 L299.61,209.52 L300.09,209.53 L300.57,209.53 L301.05,209.54 L301.53,209.55 L302.01,209.56 L302.49,209.57 L302.97,209.58 L303.45,209.59 L303.93,209.59 L304.41,209.60 L304.89,209.61 L305.37,209.62 L305.85,209.62 L306.33,209.63 L306.81,209.64 L307.29,209.64 L307.77,209.65 L308.25,209.66 L308.73,209.66 L309.21,209.67 L309.69,209.68 L310.17,209.68 L310.65,209.69 L311.13,209.70 L311.61,209.70 L312.09,209.71 L312.57,209.71 L313.05,209.72 L313.53,209.72 L314.00,209.73 L314.48,209.73 L314.96,209.74 L315.44,209.74 L315.92,209.75 L316.40,209.75 L316.88,209.76 L317.36,209.76 L317.84,209.77 L318.32,209.77 L318.80,209.78 L319.28,209.78 L319.76,209.79 L320.24,209.79 L320.72,209.80 L321.20,209.80 L321.68,209.80 L322.16,209.81 L322.64,209.81 L323.12,209.82 L323.60,209.82 L324.08,209.82 L324.56,209.83 L325.04,209.83 L325.52,209.84 L326.00,209.84 L326.48,209.84 L326.96,209.85 L327.44,209.85 L327.92,209.85 L328.40,209.86 L328.88,209.86 L329.36,209.87 L329.84,209.87 L330.32,209.87 L330.80,209.88 L331.27,209.88 L331.75,209.88 L332.23,209.89 L332.71,209.89 L333.19,209.89 L333.67,209.90 L334.15,209.90 L334.63,209.90 L335.11,209.91 L335.59,209.91 L336.07,209.91 L336.55,209.91 L337.03,209.92 L337.51,209.92 L337.99,209.92 L338.47,209.93 L338.95,209.93 L339.43,209.93 L339.91,209.93 L340.39,209.94 L340.87,209.94 L341.35,209.94 L341.83,209.94 L342.31,209.95 L342.79,209.95 L343.27,209.95 L343.75,209.95 L344.23,209.96 L344.71,209.96 L345.19,209.96 L345.67,209.96 L346.15,209.97 L346.63,209.97 L347.11,209.97 L347.59,209.97 L348.07,209.97 L348.54,209.98 L349.02,209.98 L349.50,209.98 L349.98,209.98 L350.46,209.98 L350.94,209.98 L351.42,209.99 L351.90,209.99 L352.38,209.99 L352.86,209.99 L353.34,209.99 L353.82,209.99 L354.30,209.99 L354.78,209.99 L355.26,210.00 L355.74,210.00 L356.22,210.00 L356.70,210.00 L357.18,210.00 L357.66,210.00 L358.14,210.00 L358.62,210.00 L359.10,210.00 L359.58,210.00 L360.06,210.00 L360.54,210.00 L361.02,210.00 L361.50,210.00 L361.98,210.00 L362.46,210.00 L362.94,210.00 L363.42,210.00 L363.90,210.00 L364.38,210.00 L364.86,210.00 L365.34,210.00 L365.81,210.00 L366.29,210.00 L366.77,210.00 L367.25,210.00 L367.73,210.00 L368.21,210.00 L368.69,210.00 L369.17,210.00 L369.65,210.00 L370.13,210.00 L370.61,210.00 L371.09,210.00 L371.57,210.00 L372.05,210.00 L372.53,210.00 L373.01,210.00 L373.49,210.00 L373.97,210.00 L374.45,210.00 L374.93,210.00 L375.41,210.00 L375.89,210.00 L376.37,210.00 L376.85,210.00 L377.33,210.00 L377.81,210.00 L378.29,210.00 L378.77,210.00 L379.25,210.00 L379.73,210.00 L380.21,210.00 L380.69,210.00 L381.17,210.00 L381.65,210.00 L382.13,210.00 L382.60,210.00 L383.08,210.00 L383.56,210.00 L384.04,210.00 L384.52,210.00 L385.00,210.00 L385.48,210.00 L385.96,210.00 L386.44,210.00 L386.92,210.00 L387.40,210.00 L387.88,210.00 L388.36,210.00 L388.84,210.00 L389.32,210.00 L389.80,210.00 L390.28,210.00 L390.76,210.00 L391.24,210.00 L391.72,210.00 L392.20,210.00 L392.68,210.00 L393.16,210.00 L393.64,210.00 L394.12,210.00 L394.60,210.00 L395.08,210.00 L395.56,210.00 L396.04,210.00 L396.35,210.00" stroke="#ff0000" stroke-width="2" stroke-dasharray="4.4 4.64"/>
</g>
<g stroke="#666" stroke-width="0.65" fill="none" stroke-linecap="butt">
<line x1="50.75" y1="3.5" x2="403.78" y2="3.5" stroke-width="0.58"/>
<line x1="50.6" y1="220.5" x2="403.83" y2="220.5" stroke-width="0.95"/>
<line x1="51.15" y1="3.16" x2="51.15" y2="220.98" stroke-width="0.8"/>
<line x1="403.5" y1="3.21" x2="403.5" y2="220.98" stroke-width="0.57"/>
<line x1="58.25" y1="220.5" x2="58.25" y2="216.20" stroke-width="0.72"/>
<line x1="58.25" y1="3.5" x2="58.25" y2="7.10" stroke-width="0.6"/>
<line x1="75.16" y1="220.5" x2="75.16" y2="217.90" stroke-width="0.72"/>
<line x1="75.16" y1="3.5" x2="75.16" y2="5.90" stroke-width="0.6"/>
<line x1="92.06" y1="220.5" x2="92.06" y2="217.90" stroke-width="0.72"/>
<line x1="92.06" y1="3.5" x2="92.06" y2="5.90" stroke-width="0.6"/>
<line x1="108.97" y1="220.5" x2="108.97" y2="217.90" stroke-width="0.72"/>
<line x1="108.97" y1="3.5" x2="108.97" y2="5.90" stroke-width="0.6"/>
<line x1="125.87" y1="220.5" x2="125.87" y2="216.20" stroke-width="0.72"/>
<line x1="125.87" y1="3.5" x2="125.87" y2="7.10" stroke-width="0.6"/>
<line x1="142.78" y1="220.5" x2="142.78" y2="217.90" stroke-width="0.72"/>
<line x1="142.78" y1="3.5" x2="142.78" y2="5.90" stroke-width="0.6"/>
<line x1="159.68" y1="220.5" x2="159.68" y2="217.90" stroke-width="0.72"/>
<line x1="159.68" y1="3.5" x2="159.68" y2="5.90" stroke-width="0.6"/>
<line x1="176.59" y1="220.5" x2="176.59" y2="217.90" stroke-width="0.72"/>
<line x1="176.59" y1="3.5" x2="176.59" y2="5.90" stroke-width="0.6"/>
<line x1="193.49" y1="220.5" x2="193.49" y2="216.20" stroke-width="0.72"/>
<line x1="193.49" y1="3.5" x2="193.49" y2="7.10" stroke-width="0.6"/>
<line x1="210.40" y1="220.5" x2="210.40" y2="217.90" stroke-width="0.72"/>
<line x1="210.40" y1="3.5" x2="210.40" y2="5.90" stroke-width="0.6"/>
<line x1="227.30" y1="220.5" x2="227.30" y2="217.90" stroke-width="0.72"/>
<line x1="227.30" y1="3.5" x2="227.30" y2="5.90" stroke-width="0.6"/>
<line x1="244.21" y1="220.5" x2="244.21" y2="217.90" stroke-width="0.72"/>
<line x1="244.21" y1="3.5" x2="244.21" y2="5.90" stroke-width="0.6"/>
<line x1="261.11" y1="220.5" x2="261.11" y2="216.20" stroke-width="0.72"/>
<line x1="261.11" y1="3.5" x2="261.11" y2="7.10" stroke-width="0.6"/>
<line x1="278.01" y1="220.5" x2="278.01" y2="217.90" stroke-width="0.72"/>
<line x1="278.01" y1="3.5" x2="278.01" y2="5.90" stroke-width="0.6"/>
<line x1="294.92" y1="220.5" x2="294.92" y2="217.90" stroke-width="0.72"/>
<line x1="294.92" y1="3.5" x2="294.92" y2="5.90" stroke-width="0.6"/>
<line x1="311.83" y1="220.5" x2="311.83" y2="217.90" stroke-width="0.72"/>
<line x1="311.83" y1="3.5" x2="311.83" y2="5.90" stroke-width="0.6"/>
<line x1="328.73" y1="220.5" x2="328.73" y2="216.20" stroke-width="0.72"/>
<line x1="328.73" y1="3.5" x2="328.73" y2="7.10" stroke-width="0.6"/>
<line x1="345.64" y1="220.5" x2="345.64" y2="217.90" stroke-width="0.72"/>
<line x1="345.64" y1="3.5" x2="345.64" y2="5.90" stroke-width="0.6"/>
<line x1="362.54" y1="220.5" x2="362.54" y2="217.90" stroke-width="0.72"/>
<line x1="362.54" y1="3.5" x2="362.54" y2="5.90" stroke-width="0.6"/>
<line x1="379.45" y1="220.5" x2="379.45" y2="217.90" stroke-width="0.72"/>
<line x1="379.45" y1="3.5" x2="379.45" y2="5.90" stroke-width="0.6"/>
<line x1="396.35" y1="220.5" x2="396.35" y2="216.20" stroke-width="0.72"/>
<line x1="396.35" y1="3.5" x2="396.35" y2="7.10" stroke-width="0.6"/>
<line x1="51.05" y1="209.50" x2="55.25" y2="209.50" stroke-width="0.9"/>
<line x1="403.5" y1="209.50" x2="399.60" y2="209.50" stroke-width="0.57"/>
<line x1="51.05" y1="197.50" x2="53.55" y2="197.50" stroke-width="0.9"/>
<line x1="403.5" y1="197.50" x2="401.00" y2="197.50" stroke-width="0.57"/>
<line x1="51.05" y1="185.50" x2="53.55" y2="185.50" stroke-width="0.9"/>
<line x1="403.5" y1="185.50" x2="401.00" y2="185.50" stroke-width="0.57"/>
<line x1="51.05" y1="173.50" x2="53.55" y2="173.50" stroke-width="0.9"/>
<line x1="403.5" y1="173.50" x2="401.00" y2="173.50" stroke-width="0.57"/>
<line x1="51.05" y1="161.50" x2="53.55" y2="161.50" stroke-width="0.9"/>
<line x1="403.5" y1="161.50" x2="401.00" y2="161.50" stroke-width="0.57"/>
<line x1="51.05" y1="149.50" x2="55.25" y2="149.50" stroke-width="0.9"/>
<line x1="403.5" y1="149.50" x2="399.60" y2="149.50" stroke-width="0.57"/>
<line x1="51.05" y1="137.50" x2="53.55" y2="137.50" stroke-width="0.9"/>
<line x1="403.5" y1="137.50" x2="401.00" y2="137.50" stroke-width="0.57"/>
<line x1="51.05" y1="125.50" x2="53.55" y2="125.50" stroke-width="0.9"/>
<line x1="403.5" y1="125.50" x2="401.00" y2="125.50" stroke-width="0.57"/>
<line x1="51.05" y1="113.50" x2="53.55" y2="113.50" stroke-width="0.9"/>
<line x1="403.5" y1="113.50" x2="401.00" y2="113.50" stroke-width="0.57"/>
<line x1="51.05" y1="101.50" x2="53.55" y2="101.50" stroke-width="0.9"/>
<line x1="403.5" y1="101.50" x2="401.00" y2="101.50" stroke-width="0.57"/>
<line x1="51.05" y1="89.50" x2="55.25" y2="89.50" stroke-width="0.9"/>
<line x1="403.5" y1="89.50" x2="399.60" y2="89.50" stroke-width="0.57"/>
<line x1="51.05" y1="76.50" x2="53.55" y2="76.50" stroke-width="0.9"/>
<line x1="403.5" y1="76.50" x2="401.00" y2="76.50" stroke-width="0.57"/>
<line x1="51.05" y1="64.50" x2="53.55" y2="64.50" stroke-width="0.9"/>
<line x1="403.5" y1="64.50" x2="401.00" y2="64.50" stroke-width="0.57"/>
<line x1="51.05" y1="52.50" x2="53.55" y2="52.50" stroke-width="0.9"/>
<line x1="403.5" y1="52.50" x2="401.00" y2="52.50" stroke-width="0.57"/>
<line x1="51.05" y1="40.50" x2="53.55" y2="40.50" stroke-width="0.9"/>
<line x1="403.5" y1="40.50" x2="401.00" y2="40.50" stroke-width="0.57"/>
<line x1="51.05" y1="28.50" x2="55.25" y2="28.50" stroke-width="0.9"/>
<line x1="403.5" y1="28.50" x2="399.60" y2="28.50" stroke-width="0.57"/>
<line x1="51.05" y1="16.50" x2="53.55" y2="16.50" stroke-width="0.9"/>
<line x1="403.5" y1="16.50" x2="401.00" y2="16.50" stroke-width="0.57"/>
<line x1="51.05" y1="4.50" x2="53.55" y2="4.50" stroke-width="0.9"/>
<line x1="403.5" y1="4.50" x2="401.00" y2="4.50" stroke-width="0.57"/>
</g>
<g>
<text transform="translate(48.10,238.40) rotate(0.03) scale(1,1.02)" style="font-size:14.6px">0.0</text>
<text transform="translate(115.72,238.40) rotate(0.03) scale(1,1.02)" style="font-size:14.6px">0.2</text>
<text transform="translate(183.34,238.40) rotate(0.03) scale(1,1.02)" style="font-size:14.6px">0.4</text>
<text transform="translate(250.96,238.40) rotate(0.03) scale(1,1.02)" style="font-size:14.6px">0.6</text>
<text transform="translate(318.58,238.40) rotate(0.03) scale(1,1.02)" style="font-size:14.6px">0.8</text>
<path transform="translate(386.20,238.40) scale(0.00713,-0.00713)" d="M806,0 L525,0 L525,1059 Q371,915 162,846 L162,1101 Q272,1137 401,1237.5 Q530,1338 578,1472 L806,1472 Z" fill="#000"/><text transform="translate(394.32,238.40) rotate(0.03) scale(1,1.02)" style="font-size:14.6px">.0</text>
<text transform="translate(27.51,214.90) rotate(0.03) scale(1,1.02)" style="font-size:14.6px">0.0</text>
<text transform="translate(27.51,154.65) rotate(0.03) scale(1,1.02)" style="font-size:14.6px">0.5</text>
<path transform="translate(27.51,94.40) scale(0.00713,-0.00713)" d="M806,0 L525,0 L525,1059 Q371,915 162,846 L162,1101 Q272,1137 401,1237.5 Q530,1338 578,1472 L806,1472 Z" fill="#000"/><text transform="translate(35.62,94.40) rotate(0.03) scale(1,1.02)" style="font-size:14.6px">.0</text>
<path transform="translate(27.51,34.15) scale(0.00713,-0.00713)" d="M806,0 L525,0 L525,1059 Q371,915 162,846 L162,1101 Q272,1137 401,1237.5 Q530,1338 578,1472 L806,1472 Z" fill="#000"/><text transform="translate(35.62,34.15) rotate(0.03) scale(1,1.02)" style="font-size:14.6px">.5</text>
</g>
<text transform="translate(227.4,263.8) rotate(0.03)" text-anchor="middle" stroke="#000" stroke-width="0.3">x</text>
<g transform="translate(13.8,129.1) rotate(-90)">
<text x="0" y="0" stroke="#000" stroke-width="0.3">x</text>
<text x="12.4" y="0" class="it">h</text>
<text x="21.8" y="3.7" class="it sc">T</text>
<g stroke="#000" stroke-width="1.25" fill="none"><line x1="21.8" y1="-5.4" x2="27.1" y2="-5.4"/><line x1="24.5" y1="-5.4" x2="24.5" y2="-10.9"/></g>
<text x="28.0" y="-5.1" class="it sc">u</text>
</g>
<g stroke-width="2" fill="none" stroke-linecap="square">
<line x1="290.7" y1="27.4" x2="334" y2="27.4" stroke="#000"/>
<line x1="290.6" y1="54.9" x2="334" y2="54.9" stroke="#0000ff" stroke-dasharray="1.3 4.39"/>
<line x1="290.6" y1="82.2" x2="334" y2="82.2" stroke="#ff0000" stroke-dasharray="4.6 4.53"/>
</g>
<g>
<text transform="translate(342.9,31.60) rotate(0.03)" class="it">p</text><text transform="translate(351.7,26.80) rotate(0.03)" style="font-size:10.3px">2</text><g stroke="#000" stroke-width="1.25" fill="none"><line x1="351.95" y1="34.40" x2="357.55" y2="34.40"/><line x1="354.6" y1="34.40" x2="354.6" y2="29.10"/></g><rect x="359.15" y="25.25" width="6.7" height="1.7"/><rect x="359.15" y="28.05" width="6.7" height="1.7"/><text transform="translate(366.90,31.60) rotate(0.03) scale(1,1.02)" style="font-size:14.6px">0.</text><path transform="translate(379.08,31.60) scale(0.00713,-0.00713)" d="M806,0 L525,0 L525,1059 Q371,915 162,846 L162,1101 Q272,1137 401,1237.5 Q530,1338 578,1472 L806,1472 Z" fill="#000"/>
<text transform="translate(342.9,58.95) rotate(0.03)" class="it">p</text><text transform="translate(351.7,54.15) rotate(0.03)" style="font-size:10.3px">2</text><g stroke="#000" stroke-width="1.25" fill="none"><line x1="351.95" y1="61.75" x2="357.55" y2="61.75"/><line x1="354.6" y1="61.75" x2="354.6" y2="56.45"/></g><rect x="359.15" y="52.60" width="6.7" height="1.7"/><rect x="359.15" y="55.40" width="6.7" height="1.7"/><text transform="translate(366.90,58.95) rotate(0.03) scale(1,1.02)" style="font-size:14.6px">0.2</text>
<text transform="translate(342.9,86.30) rotate(0.03)" class="it">p</text><text transform="translate(351.7,81.50) rotate(0.03)" style="font-size:10.3px">2</text><g stroke="#000" stroke-width="1.25" fill="none"><line x1="351.95" y1="89.10" x2="357.55" y2="89.10"/><line x1="354.6" y1="89.10" x2="354.6" y2="83.80"/></g><rect x="359.15" y="79.95" width="6.7" height="1.7"/><rect x="359.15" y="82.75" width="6.7" height="1.7"/><text transform="translate(366.90,86.30) rotate(0.03) scale(1,1.02)" style="font-size:14.6px">0.3</text>
</g>
</svg>
</body></html>
